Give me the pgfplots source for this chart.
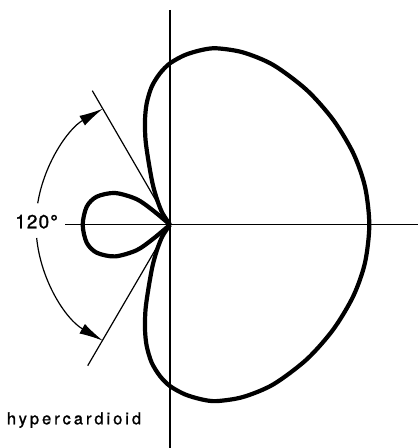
\documentclass[border=0pt]{standalone}
\usepackage{pgfplots}
\pgfplotsset{compat=1.18}
\usepackage{fontspec}
\setmainfont{TeX Gyre Heros}
\usetikzlibrary{arrows.meta}
\begin{document}
\begin{tikzpicture}
\begin{axis}[
  name=ax,
  width=418pt, height=448pt, scale only axis,
  xmin=-170, xmax=248, ymin=-223.3, ymax=224.7,
  hide axis, clip=false,
]
% axes
\addplot[black, line width=1.2pt] coordinates {(-105,0) (248,0)};
\addplot[black, line width=1.2pt] coordinates {(0,214.7) (0,-223.3)};
% 120 degree boundary lines
\addplot[black, line width=1.2pt] coordinates {(0,0) (-77.7,134)};
\addplot[black, line width=1.2pt] coordinates {(0,0) (-82.3,-141)};
% main lobe
\addplot[black, line width=4.2pt, smooth, line join=round] coordinates {
(0,0) (-7.5,-11.4) (-12.8,-24.7) (-17.5,-41.4) (-21.7,-64.7) (-24.5,-85)
(-25,-104.7) (-23.3,-121.4) (-18.3,-138) (-10,-151.4) (0,-161.4) (15,-169.7)
(31.7,-174.7) (46.7,-176.4) (73,-172.3) (103.3,-159.7) (136.7,-134.7)
(163.3,-104.7) (183.3,-71.4) (195,-38) (199.3,0)
(195,38) (183.3,71.4) (163.3,104.7) (136.7,134.7) (103.3,159.7) (73,172.3)
(46.7,176.4) (31.7,174.7) (15,169.7) (0,161.4) (-10,151.4) (-18.3,138)
(-23.3,121.4) (-25,104.7) (-24.5,85) (-21.7,64.7) (-17.5,41.4) (-12.8,24.7)
(-7.5,11.4) (0,0)
};
% back lobe
\addplot[black, line width=4.2pt, smooth, line join=round] coordinates {
(0,0) (-16.7,-14) (-33.3,-25.5) (-55,-31.7) (-73.3,-28) (-83.3,-18) (-87.3,0)
(-83.3,18) (-73.3,28) (-55,31.7) (-33.3,25.5) (-16.7,14) (0,0)
};
% angle arrows
\draw[black, line width=1.2pt, -{Latex[length=24pt,width=11pt]}]
  (axis cs:-132.28,21.42) arc[start angle=170.8, end angle=120, radius=134];
\draw[black, line width=1.2pt, -{Latex[length=24pt,width=11pt]}]
  (axis cs:-133.34,-13.31) arc[start angle=185.7, end angle=240, radius=134];
% labels
\node[anchor=base west, inner sep=0pt, font=\fontsize{19}{22}\selectfont\addfontfeature{LetterSpace=6,FakeBold=1.2}]
  at (axis cs:-155,-3.6) {120°};
\node[anchor=base west, inner sep=0pt, font=\fontsize{16.5}{19}\selectfont\addfontfeature{LetterSpace=18,FakeBold=1.2}]
  at (axis cs:-163.3,-199.6) {hypercardioid};
\end{axis}
\pgfresetboundingbox
\path (ax.south west) rectangle (ax.north east);
\end{tikzpicture}
\end{document}
